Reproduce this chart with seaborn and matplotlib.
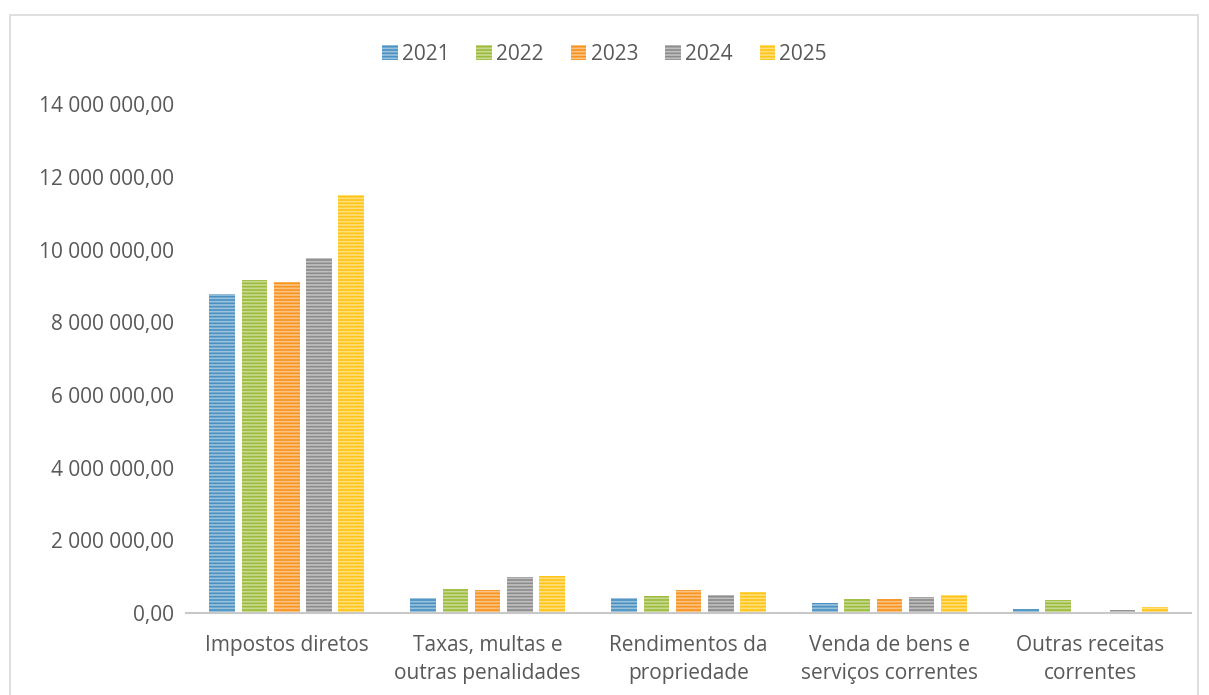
import matplotlib
matplotlib.use("Agg")
import matplotlib.pyplot as plt
import matplotlib.ticker as mticker
from matplotlib.patches import Rectangle
import pandas as pd
import seaborn as sns

categorias = ["Impostos diretos", "Taxas, multas e\noutras penalidades",
              "Rendimentos da\npropriedade", "Venda de bens e\nserviços correntes",
              "Outras receitas\ncorrentes"]
anos = ["2021", "2022", "2023", "2024", "2025"]
v2021 = [8770000, 410000, 410000, 270000, 100000]
v2022 = [9160000, 660000, 470000, 390000, 360000]
v2023 = [9100000, 630000, 630000, 380000, 20000]
v2024 = [9760000, 990000, 500000, 440000, 70000]
v2025 = [11500000, 1020000, 580000, 500000, 170000]
cores = ["#4A91C2", "#9CBB3B", "#F7931E", "#8C8C8C", "#FFC414"]

rows = []
for ano, vals in zip(anos, [v2021, v2022, v2023, v2024, v2025]):
    for c, v in zip(categorias, vals):
        rows.append({"categoria": c, "ano": ano, "valor": v})
df = pd.DataFrame(rows)

sns.set_theme(style="white")
plt.rcParams["font.family"] = ["Open Sans", "DejaVu Sans"]
plt.rcParams["hatch.linewidth"] = 1.2

fig = plt.figure(figsize=(12.09, 6.95), dpi=100)
ax = fig.add_axes([0.154, 0.118, 0.831, 0.732])

sns.barplot(data=df, x="categoria", y="valor", hue="ano", palette=cores,
            saturation=1, width=0.8, gap=0.2, ax=ax, legend=True)

for p in ax.patches:
    p.set_hatch("-----")
    p.set_edgecolor((1, 1, 1, 0.45))
    p.set_linewidth(0)

ax.set_ylim(0, 14000000)
ax.set_yticks(range(0, 14000001, 2000000))
ax.yaxis.set_major_formatter(mticker.FuncFormatter(
    lambda v, pos: "{:,.2f}".format(v).replace(",", " ").replace(".", ",")))
ax.set_xlabel("")
ax.set_ylabel("")
for s in ["top", "right", "left"]:
    ax.spines[s].set_visible(False)
ax.spines["bottom"].set_color("#c8c8c8")
ax.spines["bottom"].set_linewidth(1.5)
ax.tick_params(axis="y", colors="#595959", labelsize=15, length=0, pad=9)
ax.tick_params(axis="x", colors="#595959", labelsize=15, length=0, pad=16)
for lab in ax.get_xticklabels():
    lab.set_verticalalignment("top")
    lab.set_linespacing(1.4)

handles, labels = ax.get_legend_handles_labels()
ax.legend(handles, labels, loc="center", bbox_to_anchor=(0.5, 0.922),
          bbox_transform=fig.transFigure, ncol=5, frameon=False,
          fontsize=15, handlelength=0.75, handleheight=0.75,
          handletextpad=0.2, columnspacing=1.3, labelcolor="#595959")

fig.patches.append(Rectangle((10 / 1209, -0.01), 1188 / 1209, 1 - 15 / 695 + 0.01,
                             transform=fig.transFigure, fill=False,
                             edgecolor="#d9d9d9", linewidth=1.2))

fig.savefig("out.png", dpi=100)
